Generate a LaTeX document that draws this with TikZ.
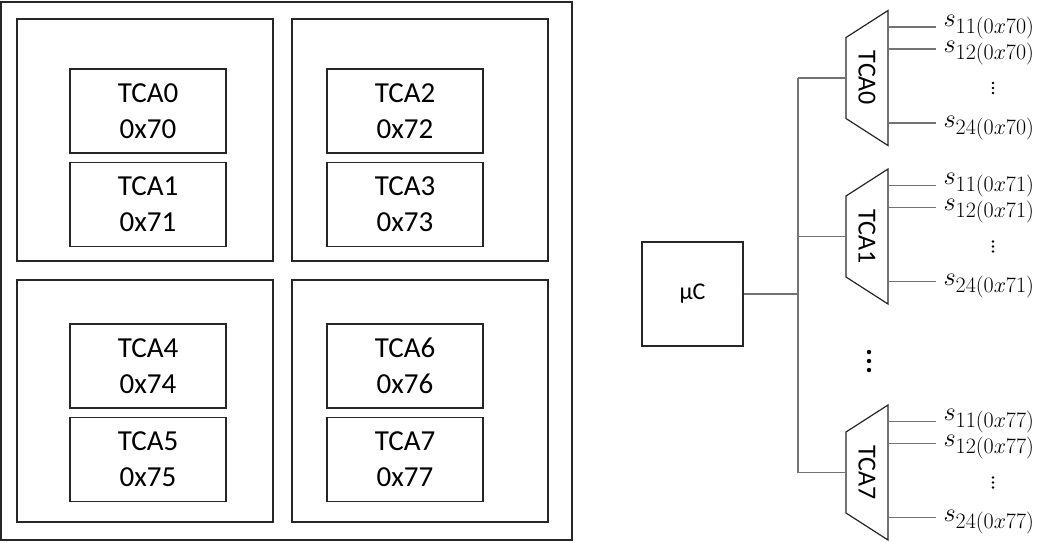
\RequirePackage{fix-cm}
\documentclass[tikz,border=0pt]{standalone}
\usepackage[no-math]{fontspec}
\setmainfont{Carlito}
\usetikzlibrary{positioning}

\begin{document}
\begin{tikzpicture}[x=1pt, y=-1pt, node distance=8pt,
    frame/.style={draw=black!85, line width=1.2pt, inner sep=0pt},
    chip/.style={frame, minimum width=156pt, minimum height=84pt, align=center, font=\fontsize{29}{36}\selectfont},
    quad/.style={frame, minimum width=256pt, minimum height=242pt},
    mcu/.style={frame, minimum width=101pt, minimum height=104pt, font=\fontsize{24}{28}\selectfont},
    wire/.style={draw=black!55, line width=1.1pt},
    mux/.style={draw=black!85, line width=1.2pt, line join=miter},
    muxname/.style={rotate=-90, inner sep=0pt, font=\fontsize{26}{30}\selectfont},
    sig/.style={anchor=base west, inner sep=0pt, text=black, font=\fontsize{24.88}{30}\selectfont}]
    \useasboundingbox (0,0) rectangle (1045,542);
    % board with four quadrants
    \node[frame, line width=1.8pt, minimum width=571pt, minimum height=538pt] (board) at (286.5,271) {};
    \node[quad] (q1) at (145,140) {};
    \node[quad] (q2) at (420,140) {};
    \node[quad] (q3) at (145,401) {};
    \node[quad] (q4) at (420,401) {};
    \node[chip] (c0) at (148,111) {TCA0\\0x70};
    \node[chip, below=of c0] (c1) {TCA1\\0x71};
    \node[chip] (c2) at (405,111) {TCA2\\0x72};
    \node[chip, below=of c2] (c3) {TCA3\\0x73};
    \node[chip] (c4) at (148,366) {TCA4\\0x74};
    \node[chip, below=of c4] (c5) {TCA5\\0x75};
    \node[chip] (c6) at (405,366) {TCA6\\0x76};
    \node[chip, below=of c6] (c7) {TCA7\\0x77};
    % controller and bus
    \node[mcu] (mcu) at (692.5,294) {µC};
    \coordinate (bustop) at (798,78);
    \coordinate (busbot) at (798,472.5);
    \draw[wire] (bustop) -- (busbot);
    \draw[wire] (mcu.east) -- (mcu.east -| bustop);
    \foreach \i/\c in {0/78,1/236.5,7/472.5}{
      \node[muxname] (tca\i) at (867,\c) {TCA\i};
      \draw[mux] (846,{\c-40.5}) -- (888,{\c-67.5}) -- (888,{\c+67.5}) -- (846,{\c+40.5}) -- cycle;
      \coordinate (in\i) at (846,\c);
      \coordinate (rt\i) at (888,\c);
      \draw[wire] (in\i -| bustop) -- (in\i);
      \foreach \o/\d/\ys in {11/-51/1,12/-29/-3,24/45/-4}{
        \coordinate (out\i-\o) at (936,{\c+\d});
        \draw[wire] (out\i-\o -| rt\i) -- (out\i-\o) node[sig, xshift=7pt, yshift=\ys pt] (s\i-\o) {\scalebox{1.06}{$s_{\o(0x7\i)}$}};
      }
      \foreach \k in {5,10,15} \fill (993,{\c+\k}) circle (1.4);
    }
    \foreach \y in {352,361,370} \fill (869,\y) circle (2.2);
\end{tikzpicture}
\end{document}
